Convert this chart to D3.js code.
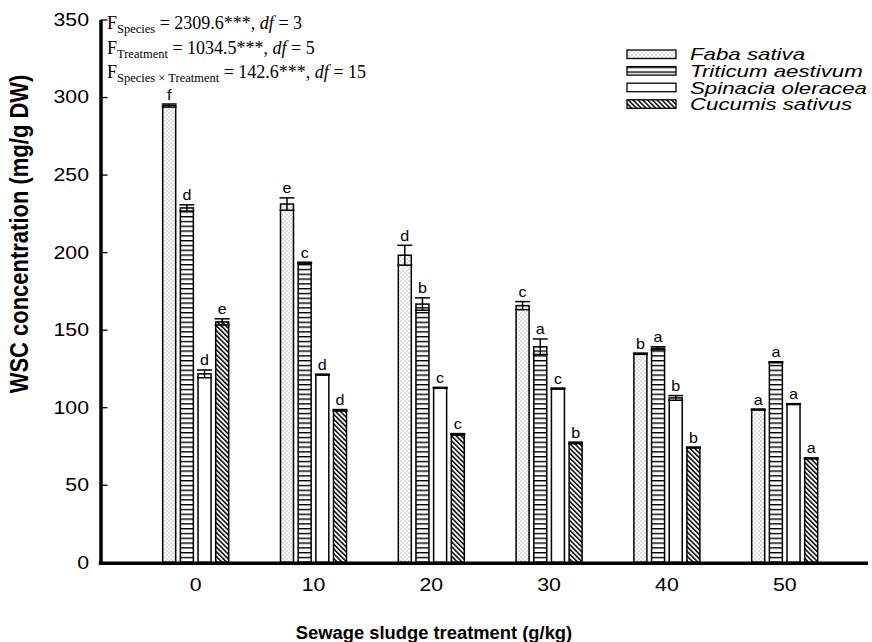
<!DOCTYPE html>
<html>
<head>
<meta charset="utf-8">
<script src="https://cdn.jsdelivr.net/npm/d3@7"></script>
<style>
body { margin: 0; background: #fff; }
svg text { font-family: "Liberation Sans", Arial, sans-serif; fill: #000; }
</style>
</head>
<body>
<div id="chart"></div>
<script>
// data
var treatments = ["0", "10", "20", "30", "40", "50"];
var species = ["Faba sativa", "Triticum aestivum", "Spinacia oleracea", "Cucumis sativus"];

var fabaMean = [294.5, 231, 198, 165.5, 134.5, 98.5];
var triticumMean = [228.5, 193, 166.5, 139, 138, 129];
var spinaciaMean = [121.5, 121, 112.5, 112, 106, 102];
var cucumisMean = [155, 98, 82.5, 77, 74, 67];

var fabaErr = [1, 4, 6.4, 2.6, 0.4, 0.3];
var triticumErr = [2, 0.5, 4, 5, 1, 0.3];
var spinaciaErr = [2.5, 0.3, 0.3, 0.3, 1.5, 0.3];
var cucumisErr = [2, 0.5, 0.5, 0.5, 0.3, 0.3];

var fabaLetters = ["f", "e", "d", "c", "b", "a"];
var triticumLetters = ["d", "c", "b", "a", "a", "a"];
var spinaciaLetters = ["d", "d", "c", "c", "b", "a"];
var cucumisLetters = ["e", "d", "c", "b", "b", "a"];

var yTicks = [0, 50, 100, 150, 200, 250, 300, 350];

var statLines = [
  {sub: "Species", value: "2309.6", df: "3"},
  {sub: "Treatment", value: "1034.5", df: "5"},
  {sub: "Species \u00d7 Treatment", value: "142.6", df: "15"}
];

var xTitle = "Sewage sludge treatment (g/kg)";
var yTitle = "WSC concentration (mg/g DW)";

var width = 872, height = 642;
var sx = 1.15; // the figure's text is a bit wide

var svg = d3.select("#chart")
  .append("svg")
    .attr("width", width)
    .attr("height", height);

// fill patterns
var defs = svg.append("defs");

var dots = defs.append("pattern")
    .attr("id", "p-dots")
    .attr("patternUnits", "userSpaceOnUse")
    .attr("width", 4).attr("height", 4);
dots.append("rect").attr("width", 4).attr("height", 4).attr("fill", "#fff");
dots.append("rect").attr("x", 0.5).attr("y", 0.5).attr("width", 1).attr("height", 1).attr("fill", "#777");
dots.append("rect").attr("x", 2.5).attr("y", 2.5).attr("width", 1).attr("height", 1).attr("fill", "#777");

var hlines = defs.append("pattern")
    .attr("id", "p-hlines")
    .attr("patternUnits", "userSpaceOnUse")
    .attr("width", 8).attr("height", 4.8);
hlines.append("rect").attr("width", 8).attr("height", 4.8).attr("fill", "#fff");
hlines.append("rect").attr("y", 0).attr("width", 8).attr("height", 1.4).attr("fill", "#000");

var diag = defs.append("pattern")
    .attr("id", "p-diag")
    .attr("patternUnits", "userSpaceOnUse")
    .attr("width", 3.4).attr("height", 8)
    .attr("patternTransform", "rotate(-45)");
diag.append("rect").attr("width", 3.4).attr("height", 8).attr("fill", "#fff");
diag.append("rect").attr("x", 0).attr("width", 1.5).attr("height", 8).attr("fill", "#000");

var fills = ["url(#p-dots)", "url(#p-hlines)", "#fff", "url(#p-diag)"];

// scales
var x0 = d3.scaleBand()
    .domain(treatments)
    .range([136.8, 843.6]);

var x1 = d3.scaleBand()
    .domain(species)
    .range([-33, 33])
    .paddingInner(0.265);

var y = d3.scaleLinear()
    .domain([0, 350])
    .range([562.3, 19.5]);

var means = [fabaMean, triticumMean, spinaciaMean, cucumisMean];
var errs = [fabaErr, triticumErr, spinaciaErr, cucumisErr];
var letters = [fabaLetters, triticumLetters, spinaciaLetters, cucumisLetters];

var rows = [];
treatments.forEach(function(t, i) {
  species.forEach(function(s, j) {
    rows.push({t: t, s: s, k: j, v: means[j][i], e: errs[j][i], l: letters[j][i]});
  });
});

function cx(d) { return x0(d.t) + x0.bandwidth() / 2 + x1(d.s) + x1.bandwidth() / 2; }

// bars
var g = svg.append("g");

g.selectAll("rect.bar")
    .data(rows)
  .enter().append("rect")
    .attr("class", "bar")
    .attr("x", function(d) { return x0(d.t) + x0.bandwidth() / 2 + x1(d.s); })
    .attr("y", function(d) { return y(d.v); })
    .attr("width", x1.bandwidth())
    .attr("height", function(d) { return y(0) - y(d.v); })
    .attr("fill", function(d) { return fills[d.k]; })
    .attr("stroke", "#000")
    .attr("stroke-width", 1.5);

// error bars
var eb = g.selectAll("g.err")
    .data(rows)
  .enter().append("g")
    .attr("class", "err")
    .attr("stroke", "#000")
    .attr("stroke-width", 1.5);

eb.append("line")
    .attr("x1", cx).attr("x2", cx)
    .attr("y1", function(d) { return y(d.v + d.e); })
    .attr("y2", function(d) { return y(d.v - d.e); });
eb.append("line")
    .attr("x1", function(d) { return cx(d) - 7.5; })
    .attr("x2", function(d) { return cx(d) + 7.5; })
    .attr("y1", function(d) { return y(d.v + d.e); })
    .attr("y2", function(d) { return y(d.v + d.e); });
eb.append("line")
    .attr("x1", function(d) { return cx(d) - 7.5; })
    .attr("x2", function(d) { return cx(d) + 7.5; })
    .attr("y1", function(d) { return y(d.v - d.e); })
    .attr("y2", function(d) { return y(d.v - d.e); });

// significance letters
g.selectAll("text.letter")
    .data(rows)
  .enter().append("text")
    .attr("class", "letter")
    .attr("text-anchor", "middle")
    .attr("transform", function(d) {
      return "translate(" + cx(d) + "," + (y(d.v + d.e) - 4.5) + ") scale(" + sx + ",1)";
    })
    .style("font-size", "14px")
    .text(function(d) { return d.l; });

// axes
var yAxis = svg.append("g")
    .attr("transform", "translate(100.5,0)")
    .call(d3.axisLeft(y).tickValues(yTicks).tickSize(-7).tickSizeOuter(0).tickPadding(11.5));
yAxis.select(".domain").attr("stroke-width", 3.5);
yAxis.selectAll(".tick line").attr("stroke-width", 1.3);
yAxis.selectAll(".tick text")
    .attr("x", -11.5 / sx)
    .attr("transform", "scale(" + sx + ",1)")
    .style("font-size", "18.5px");

var xAxis = svg.append("g")
    .attr("transform", "translate(0,563.3)")
    .call(d3.axisBottom(x0).tickSize(0).tickPadding(14.6));
xAxis.select(".domain").remove();
xAxis.selectAll(".tick text")
    .attr("transform", "scale(" + sx + ",1)")
    .style("font-size", "18.5px");
xAxis.append("line")
    .attr("x1", 98.75).attr("x2", 868)
    .attr("y1", 0).attr("y2", 0)
    .attr("stroke", "#000")
    .attr("stroke-width", 3.5);

svg.selectAll(".tick text").attr("font-family", null);

// titles
svg.append("text")
    .attr("text-anchor", "middle")
    .attr("transform", "translate(434,639) scale(1.02,1)")
    .style("font-size", "18px")
    .style("font-weight", "bold")
    .text(xTitle);

svg.append("text")
    .attr("text-anchor", "middle")
    .attr("transform", "translate(28,234) rotate(-90) scale(1," + sx + ")")
    .style("font-size", "22px")
    .style("font-weight", "bold")
    .text(yTitle);

// legend
var legend = svg.append("g")
    .attr("transform", "translate(627,50)");

var item = legend.selectAll("g")
    .data(species)
  .enter().append("g")
    .attr("transform", function(d, i) { return "translate(0," + (i * 16.6) + ")"; });

item.append("rect")
    .attr("width", 49)
    .attr("height", 8.5)
    .attr("fill", function(d, i) { return fills[i]; })
    .attr("stroke", "#000")
    .attr("stroke-width", 1.3);

item.append("text")
    .attr("transform", "translate(63,10.3) scale(1.31,1)")
    .style("font-size", "17px")
    .style("font-style", "italic")
    .text(function(d) { return d; });

// statistics
var stats = svg.append("g")
    .attr("transform", "translate(107,0)");

stats.selectAll("text")
    .data(statLines)
  .enter().append("text")
    .attr("y", function(d, i) { return 29 + i * 24.5; })
    .style("font-family", "'Liberation Serif', 'Times New Roman', serif")
    .style("font-size", "18px")
    .each(function(d) {
      var t = d3.select(this);
      t.append("tspan").text("F");
      t.append("tspan").attr("dy", 4).style("font-size", "12.5px").text(d.sub);
      t.append("tspan").attr("dy", -4).text(" = " + d.value + "***, ");
      t.append("tspan").style("font-style", "italic").text("df");
      t.append("tspan").text(" = " + d.df);
    });
</script>
</body>
</html>
